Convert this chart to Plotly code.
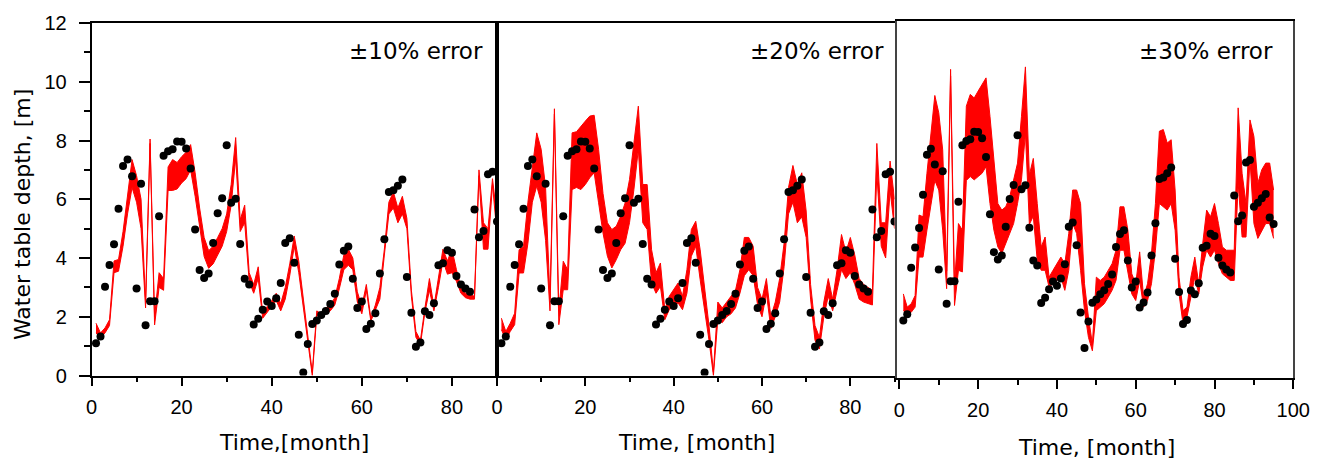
import plotly.graph_objects as go

# ---------------- data ----------------
months = list(range(1, 96))
observed = [1.10, 1.33, 3.02, 3.76, 4.47, 5.68, 7.13, 7.35, 6.78, 2.96,
            6.53, 1.71, 2.53, 2.53, 5.42, 7.48, 7.63, 7.70, 7.97, 7.96,
            7.73, 7.05, 4.97, 3.59, 3.32, 3.47, 4.51, 5.52, 6.03, 7.84,
            5.88, 6.02, 4.48, 3.29, 3.10, 1.74, 1.93, 2.24, 2.52, 2.37,
            2.63, 3.15, 4.51, 4.67, 3.84, 1.39, 0.10, 1.07, 1.75, 1.87,
            2.06, 2.20, 2.43, 2.78, 3.78, 4.25, 4.39, 3.29, 2.30, 2.52,
            1.58, 1.76, 2.12, 3.47, 4.64, 6.25, 6.31, 6.46, 6.67, 3.35,
            2.14, 0.98, 1.12, 2.19, 2.06, 2.46, 3.75, 3.82, 4.26, 4.18,
            3.39, 3.10, 2.96, 2.85, 5.65, 4.71, 4.92, 6.85, 6.94, 5.24,
            5.39, 5.55, 5.71, 4.85, 4.61]

band_months_12 = list(range(1, 91))
p1_lo = [1.45, 1.28, 1.45, 1.70, 3.50, 3.55, 4.40, 5.50, 6.40, 5.90,
         5.00, 2.30, 7.90, 1.72, 3.00, 2.90, 6.30, 6.30, 6.35, 6.55,
         6.70, 7.00, 6.10, 5.00, 4.05, 3.65, 3.80, 4.10, 4.40, 4.90,
         5.80, 7.40, 4.90, 5.20, 3.20, 2.80, 3.30, 1.95, 2.15, 2.35,
         2.55, 2.20, 2.60, 3.40, 4.40, 3.50, 2.30, 1.10, 0.00, 2.05,
         1.95, 2.10, 2.20, 2.40, 2.95, 3.60, 3.75, 3.60, 2.50, 2.10,
         2.90, 1.85, 2.20, 2.60, 4.10, 5.50, 5.70, 5.20, 5.50, 5.00,
         2.70, 1.30, 1.05, 2.15, 2.90, 2.20, 3.00, 3.90, 3.45, 3.50,
         3.20, 2.80, 2.65, 2.60, 2.60, 6.80, 4.30, 4.30, 6.50, 4.80]
p1_hi = [1.78, 1.45, 1.62, 1.90, 3.90, 3.95, 4.90, 6.20, 7.35, 6.80,
         6.00, 2.50, 8.05, 2.00, 3.50, 3.30, 7.10, 7.35, 7.25, 7.45,
         7.60, 7.86, 6.90, 5.70, 4.70, 4.25, 4.40, 4.70, 5.00, 5.50,
         6.50, 8.10, 5.30, 5.80, 3.50, 3.10, 3.70, 2.10, 2.35, 2.55,
         2.80, 2.45, 3.00, 3.80, 4.75, 3.90, 2.70, 1.40, 0.10, 2.20,
         2.10, 2.30, 2.40, 2.65, 3.30, 4.10, 4.30, 4.00, 2.85, 2.35,
         3.10, 1.95, 2.40, 3.00, 4.30, 5.90, 6.25, 5.70, 6.10, 5.35,
         2.90, 1.50, 1.20, 2.30, 3.30, 2.35, 3.40, 4.30, 3.90, 4.30,
         3.60, 3.00, 2.80, 2.75, 2.70, 7.00, 5.20, 5.00, 6.70, 5.40]

p2_lo = [1.56, 1.22, 1.50, 1.73, 3.49, 3.49, 4.50, 5.90, 6.45, 5.90,
         4.60, 2.20, 8.90, 1.73, 2.92, 2.92, 6.33, 6.40, 6.33, 6.50,
         6.73, 6.90, 5.88, 4.85, 4.06, 3.66, 3.94, 4.28, 4.50, 5.20,
         6.33, 7.70, 5.20, 4.97, 3.15, 2.80, 3.03, 1.90, 2.24, 2.35,
         2.47, 2.24, 2.80, 4.06, 4.40, 3.26, 2.30, 1.20, 0.00, 1.90,
         1.80, 2.00, 2.10, 2.30, 2.80, 3.40, 3.60, 3.40, 2.40, 2.00,
         2.80, 1.60, 2.00, 2.50, 3.70, 5.50, 5.90, 5.20, 5.40, 4.70,
         2.60, 1.20, 0.90, 2.00, 2.70, 2.20, 2.90, 3.60, 3.30, 3.50,
         3.10, 2.60, 2.50, 2.45, 2.40, 6.90, 4.40, 4.00, 6.30, 5.00]
p2_hi = [1.95, 1.50, 1.78, 2.12, 4.28, 4.40, 5.90, 7.10, 8.26, 7.70,
         6.40, 2.60, 9.08, 2.20, 3.89, 3.60, 8.26, 8.30, 8.50, 8.66,
         8.83, 8.86, 7.70, 6.20, 5.20, 4.97, 5.08, 5.42, 5.87, 6.67,
         7.92, 9.17, 6.50, 6.50, 4.28, 3.50, 3.83, 2.24, 2.70, 2.92,
         3.15, 2.70, 3.60, 4.97, 5.25, 4.28, 3.00, 1.70, 0.12, 2.50,
         2.30, 2.50, 2.70, 2.90, 3.60, 4.70, 4.70, 4.40, 3.00, 2.60,
         3.30, 2.00, 2.50, 3.30, 4.50, 6.40, 7.15, 6.50, 6.90, 5.60,
         3.10, 1.70, 1.30, 2.50, 3.30, 2.60, 3.60, 4.80, 4.20, 4.70,
         4.10, 3.30, 3.10, 3.00, 2.90, 7.90, 5.20, 5.20, 7.30, 6.00]

p3_lo = [1.46, 1.34, 1.40, 1.59, 3.41, 3.41, 4.39, 5.36, 6.20, 5.85,
         4.39, 2.26, 10.0, 1.65, 2.93, 2.87, 6.20, 6.34, 6.22, 6.34,
         6.46, 6.70, 5.36, 4.39, 3.78, 3.54, 3.90, 4.27, 4.63, 5.36,
         6.22, 7.92, 4.60, 4.90, 3.29, 2.93, 2.93, 2.32, 2.44, 2.56,
         2.68, 2.20, 2.93, 4.63, 4.27, 2.93, 1.46, 0.49, 0.00, 1.46,
         1.59, 1.71, 1.95, 2.20, 2.56, 3.66, 3.66, 2.93, 2.07, 1.83,
         2.56, 1.59, 1.83, 2.44, 3.66, 5.36, 5.24, 5.12, 5.36, 4.39,
         2.07, 0.98, 1.22, 1.95, 2.68, 2.07, 3.05, 3.66, 3.41, 3.66,
         3.17, 2.80, 2.68, 2.56, 2.56, 6.10, 4.14, 4.14, 6.95, 4.63,
         4.09, 4.39, 4.63, 4.63, 4.09]
p3_hi = [2.07, 1.59, 1.71, 2.01, 4.94, 4.88, 6.46, 7.80, 9.29, 8.66,
         7.31, 2.90, 10.24, 2.44, 4.63, 4.39, 8.90, 9.33, 9.20, 9.45,
         9.69, 9.93, 8.53, 6.83, 5.36, 5.12, 5.24, 5.60, 6.22, 6.83,
         8.53, 10.33, 6.40, 7.00, 5.36, 3.78, 4.14, 2.68, 2.93, 3.17,
         3.41, 3.17, 4.27, 5.85, 5.85, 5.36, 2.44, 1.22, 0.25, 2.68,
         2.56, 2.68, 2.93, 3.17, 3.66, 5.24, 5.24, 4.39, 2.80, 2.44,
         3.60, 1.95, 2.44, 3.54, 5.36, 7.99, 8.05, 7.56, 7.68, 5.85,
         2.68, 1.46, 1.59, 2.68, 3.41, 2.44, 3.90, 5.12, 4.88, 5.36,
         4.63, 3.78, 3.66, 3.66, 3.66, 8.84, 6.46, 5.36, 8.40, 7.80,
         6.10, 6.59, 6.83, 6.83, 5.85]

panel_labels = ["±10% error", "±20% error", "±30% error"]
x_titles = ["Time,[month]", "Time, [month]", "Time, [month]"]
y_title = "Water table depth, [m]"

# ---------------- layout geometry (pixels) ----------------
W, H = 1325, 462
def px(x):
    return x / W
def py(y):
    return 1 - y / H

RED = "#ff0000"
tick_font = dict(family="Liberation Sans, Arial, sans-serif", size=20, color="black")
title_font = dict(family="DejaVu Sans, sans-serif", size=22, color="black")

fig = go.Figure()

bands = [(band_months_12, p1_lo, p1_hi), (band_months_12, p2_lo, p2_hi), (months, p3_lo, p3_hi)]
for i, (bm, lo, hi) in enumerate(bands):
    ax = "" if i == 0 else str(i + 1)
    fig.add_trace(go.Scatter(x=bm, y=lo, mode="lines", line=dict(color=RED, width=1),
                             xaxis="x" + ax, yaxis="y" + ax, hoverinfo="skip"))
    fig.add_trace(go.Scatter(x=bm, y=hi, mode="lines", line=dict(color=RED, width=1),
                             fill="tonexty", fillcolor=RED,
                             xaxis="x" + ax, yaxis="y" + ax, hoverinfo="skip"))
    fig.add_trace(go.Scatter(x=months, y=observed, mode="markers",
                             marker=dict(color="black", size=8),
                             xaxis="x" + ax, yaxis="y" + ax))

common_x = dict(showline=True, linecolor="black", linewidth=1.5, mirror=True,
                ticks="outside", ticklen=9, tickwidth=1.5, tickcolor="black",
                dtick=20, tick0=0, showgrid=False, zeroline=False, automargin=False,
                tickfont=tick_font, ticklabelstandoff=4,
                minor=dict(dtick=10, tick0=0, ticks="outside", ticklen=5,
                           tickwidth=1.5, tickcolor="black", showgrid=False))

# panel pixel boxes: (left, right, top, bottom)
boxes = [(91.5, 497, 23, 375.5), (497, 894.5, 23, 375.5), (897, 1293.3, 21, 378.3)]
xranges = [[0, 90], [0, 90], [-0.6, 100]]
yranges = [[0, 12], [0, 12], [-1, 12]]

for i, (l, r, t, b) in enumerate(boxes):
    key = "" if i == 0 else str(i + 1)
    xa = dict(common_x, domain=[px(l), px(r)], range=xranges[i], anchor="y" + key)
    ya = dict(domain=[py(b), py(t)], range=yranges[i], anchor="x" + key,
              showline=True, linecolor="black" if i < 2 else "#444", linewidth=1.5, mirror=True,
              showgrid=False, zeroline=False, automargin=False)
    if i == 0:
        ya.update(ticks="outside", ticklen=11, tickwidth=1.5, tickcolor="black",
                  dtick=2, tick0=0, tickfont=tick_font, ticklabelstandoff=8,
                  minor=dict(dtick=1, ticks="outside", ticklen=6, tickwidth=1.5,
                             tickcolor="black", showgrid=False))
    else:
        ya.update(showticklabels=False, ticks="")
    fig.layout["xaxis" + key] = xa
    fig.layout["yaxis" + key] = ya

annotations = []
label_right = [485, 886, 1275]
for i in range(3):
    annotations.append(dict(text=panel_labels[i], x=px(label_right[i]), y=py(51),
                            xref="paper", yref="paper", xanchor="right", yanchor="middle",
                            showarrow=False, font=dict(title_font, size=23)))
title_centers = [(294, 442), (696, 442), (1096, 447)]
for i, (cx, cy) in enumerate(title_centers):
    annotations.append(dict(text=x_titles[i], x=px(cx), y=py(cy), xref="paper", yref="paper",
                            xanchor="center", yanchor="middle", showarrow=False,
                            font=title_font))
annotations.append(dict(text=y_title, x=px(22), y=py(215), xref="paper", yref="paper",
                        xanchor="center", yanchor="middle", textangle=-90,
                        showarrow=False, font=title_font))

fig.update_layout(width=W, height=H,
                  margin=dict(l=0, r=0, t=0, b=0, pad=0, autoexpand=False),
                  plot_bgcolor="white", paper_bgcolor="white", showlegend=False,
                  annotations=annotations)

fig.write_html("out.html", config={"displayModeBar": False},
               post_script="document.body.style.margin='0px';document.body.style.overflow='hidden';")
